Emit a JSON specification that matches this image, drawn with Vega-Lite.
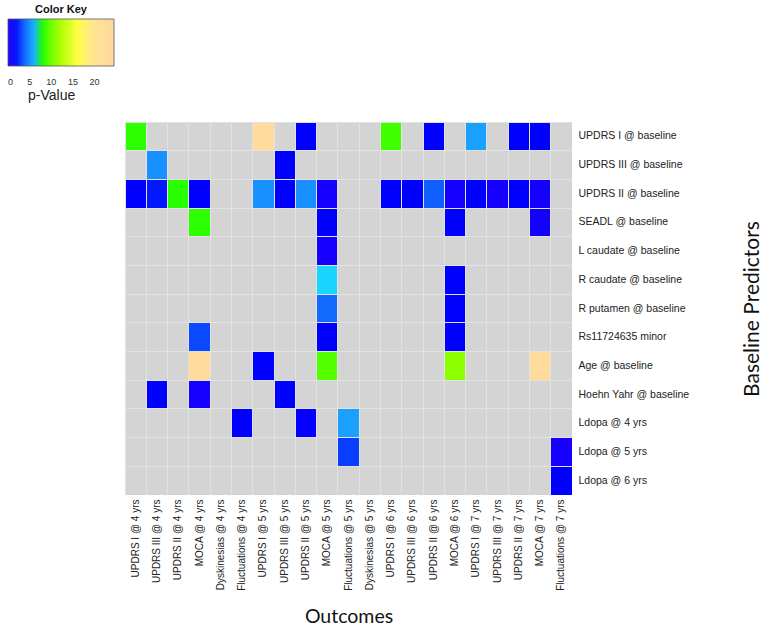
{
  "$schema": "https://vega.github.io/schema/vega-lite/v6.json",
  "autosize": {"type": "none"},
  "padding": {"left": 125, "top": 122, "right": 194, "bottom": 135},
  "width": 447,
  "height": 373,
  "title": {
    "text": "p-Value",
    "anchor": "start",
    "frame": "group",
    "orient": "top",
    "offset": 0,
    "baseline": "bottom",
    "dx": -97,
    "dy": 113,
    "font": "Liberation Sans",
    "fontSize": 14,
    "fontWeight": "normal",
    "color": "#222"
  },
  "config": {
    "view": {"fill": "#d4d4d4", "stroke": null},
    "background": "white"
  },
  "data": {
    "values": [
      {"outcome": "UPDRS I @ 4 yrs", "predictor": "UPDRS I @ baseline", "p": 8.3},
      {"outcome": "UPDRS I @ 5 yrs", "predictor": "UPDRS I @ baseline", "p": 23},
      {"outcome": "UPDRS II @ 5 yrs", "predictor": "UPDRS I @ baseline", "p": 1.5},
      {"outcome": "UPDRS I @ 6 yrs", "predictor": "UPDRS I @ baseline", "p": 8.8},
      {"outcome": "UPDRS II @ 6 yrs", "predictor": "UPDRS I @ baseline", "p": 1.5},
      {"outcome": "UPDRS I @ 7 yrs", "predictor": "UPDRS I @ baseline", "p": 5.5},
      {"outcome": "UPDRS II @ 7 yrs", "predictor": "UPDRS I @ baseline", "p": 1.5},
      {"outcome": "MOCA @ 7 yrs", "predictor": "UPDRS I @ baseline", "p": 1.5},

      {"outcome": "UPDRS III @ 4 yrs", "predictor": "UPDRS III @ baseline", "p": 5},
      {"outcome": "UPDRS III @ 5 yrs", "predictor": "UPDRS III @ baseline", "p": 1.5},

      {"outcome": "UPDRS I @ 4 yrs", "predictor": "UPDRS II @ baseline", "p": 1.5},
      {"outcome": "UPDRS III @ 4 yrs", "predictor": "UPDRS II @ baseline", "p": 2},
      {"outcome": "UPDRS II @ 4 yrs", "predictor": "UPDRS II @ baseline", "p": 8.2},
      {"outcome": "MOCA @ 4 yrs", "predictor": "UPDRS II @ baseline", "p": 1.5},
      {"outcome": "UPDRS I @ 5 yrs", "predictor": "UPDRS II @ baseline", "p": 5},
      {"outcome": "UPDRS III @ 5 yrs", "predictor": "UPDRS II @ baseline", "p": 1.5},
      {"outcome": "UPDRS II @ 5 yrs", "predictor": "UPDRS II @ baseline", "p": 5},
      {"outcome": "MOCA @ 5 yrs", "predictor": "UPDRS II @ baseline", "p": 0.6},
      {"outcome": "UPDRS I @ 6 yrs", "predictor": "UPDRS II @ baseline", "p": 1.5},
      {"outcome": "UPDRS III @ 6 yrs", "predictor": "UPDRS II @ baseline", "p": 1.5},
      {"outcome": "UPDRS II @ 6 yrs", "predictor": "UPDRS II @ baseline", "p": 3.5},
      {"outcome": "MOCA @ 6 yrs", "predictor": "UPDRS II @ baseline", "p": 0.7},
      {"outcome": "UPDRS I @ 7 yrs", "predictor": "UPDRS II @ baseline", "p": 1.5},
      {"outcome": "UPDRS III @ 7 yrs", "predictor": "UPDRS II @ baseline", "p": 0.7},
      {"outcome": "UPDRS II @ 7 yrs", "predictor": "UPDRS II @ baseline", "p": 1.5},
      {"outcome": "MOCA @ 7 yrs", "predictor": "UPDRS II @ baseline", "p": 0.7},

      {"outcome": "MOCA @ 4 yrs", "predictor": "SEADL @ baseline", "p": 8.3},
      {"outcome": "MOCA @ 5 yrs", "predictor": "SEADL @ baseline", "p": 1.5},
      {"outcome": "MOCA @ 6 yrs", "predictor": "SEADL @ baseline", "p": 1.5},
      {"outcome": "MOCA @ 7 yrs", "predictor": "SEADL @ baseline", "p": 0.8},

      {"outcome": "MOCA @ 5 yrs", "predictor": "L caudate @ baseline", "p": 0.6},

      {"outcome": "MOCA @ 5 yrs", "predictor": "R caudate @ baseline", "p": 7.2},
      {"outcome": "MOCA @ 6 yrs", "predictor": "R caudate @ baseline", "p": 1.5},

      {"outcome": "MOCA @ 5 yrs", "predictor": "R putamen @ baseline", "p": 3.8},
      {"outcome": "MOCA @ 6 yrs", "predictor": "R putamen @ baseline", "p": 1.5},

      {"outcome": "MOCA @ 4 yrs", "predictor": "Rs11724635 minor", "p": 3},
      {"outcome": "MOCA @ 5 yrs", "predictor": "Rs11724635 minor", "p": 1.5},
      {"outcome": "MOCA @ 6 yrs", "predictor": "Rs11724635 minor", "p": 1.5},

      {"outcome": "MOCA @ 4 yrs", "predictor": "Age @ baseline", "p": 23},
      {"outcome": "UPDRS I @ 5 yrs", "predictor": "Age @ baseline", "p": 1.5},
      {"outcome": "MOCA @ 5 yrs", "predictor": "Age @ baseline", "p": 9.3},
      {"outcome": "MOCA @ 6 yrs", "predictor": "Age @ baseline", "p": 11},
      {"outcome": "MOCA @ 7 yrs", "predictor": "Age @ baseline", "p": 23},

      {"outcome": "UPDRS III @ 4 yrs", "predictor": "Hoehn Yahr @ baseline", "p": 1.5},
      {"outcome": "MOCA @ 4 yrs", "predictor": "Hoehn Yahr @ baseline", "p": 0.7},
      {"outcome": "UPDRS III @ 5 yrs", "predictor": "Hoehn Yahr @ baseline", "p": 1.5},

      {"outcome": "Fluctuations @ 4 yrs", "predictor": "Ldopa @ 4 yrs", "p": 1.5},
      {"outcome": "UPDRS II @ 5 yrs", "predictor": "Ldopa @ 4 yrs", "p": 1.3},
      {"outcome": "Fluctuations @ 5 yrs", "predictor": "Ldopa @ 4 yrs", "p": 5.5},

      {"outcome": "Fluctuations @ 5 yrs", "predictor": "Ldopa @ 5 yrs", "p": 2.8},
      {"outcome": "Fluctuations @ 7 yrs", "predictor": "Ldopa @ 5 yrs", "p": 0.6},

      {"outcome": "Fluctuations @ 7 yrs", "predictor": "Ldopa @ 6 yrs", "p": 1.5}
    ]
  },
  "mark": {"type": "rect"},
  "encoding": {
    "x": {
      "field": "outcome",
      "type": "nominal",
      "sort": null,
      "scale": {
        "domain": ["UPDRS I @ 4 yrs", "UPDRS III @ 4 yrs", "UPDRS II @ 4 yrs", "MOCA @ 4 yrs", "Dyskinesias @ 4 yrs", "Fluctuations @ 4 yrs", "UPDRS I @ 5 yrs", "UPDRS III @ 5 yrs", "UPDRS II @ 5 yrs", "MOCA @ 5 yrs", "Fluctuations @ 5 yrs", "Dyskinesias @ 5 yrs", "UPDRS I @ 6 yrs", "UPDRS III @ 6 yrs", "UPDRS II @ 6 yrs", "MOCA @ 6 yrs", "UPDRS I @ 7 yrs", "UPDRS III @ 7 yrs", "UPDRS II @ 7 yrs", "MOCA @ 7 yrs", "Fluctuations @ 7 yrs"],
        "paddingInner": 0,
        "paddingOuter": 0
      },
      "axis": {
        "orient": "bottom",
        "title": "Outcomes",
        "titleFont": "Lato",
        "titleFontSize": 19.5,
        "titleFontWeight": "normal",
        "titleColor": "#111",
        "titlePadding": 17,
        "labelAngle": 270,
        "labelFont": "Liberation Sans",
        "labelFontSize": 10,
        "labelColor": "#222",
        "labelPadding": 4,
        "ticks": false,
        "domain": false,
        "grid": true,
        "bandPosition": 0,
        "gridColor": "#e2e2e2",
        "gridWidth": 1
      }
    },
    "y": {
      "field": "predictor",
      "type": "nominal",
      "sort": null,
      "scale": {
        "domain": ["UPDRS I @ baseline", "UPDRS III @ baseline", "UPDRS II @ baseline", "SEADL @ baseline", "L caudate @ baseline", "R caudate @ baseline", "R putamen @ baseline", "Rs11724635 minor", "Age @ baseline", "Hoehn Yahr @ baseline", "Ldopa @ 4 yrs", "Ldopa @ 5 yrs", "Ldopa @ 6 yrs"],
        "paddingInner": 0,
        "paddingOuter": 0
      },
      "axis": {
        "orient": "right",
        "title": "Baseline Predictors",
        "titleFont": "Lato",
        "titleFontSize": 21,
        "titleFontWeight": "normal",
        "titleColor": "#111",
        "titleAngle": 270,
        "titlePadding": 74,
        "labelFont": "Liberation Sans",
        "labelFontSize": 10.5,
        "labelColor": "#222",
        "labelPadding": 6,
        "ticks": false,
        "domain": false,
        "grid": true,
        "bandPosition": 0,
        "gridColor": "#e2e2e2",
        "gridWidth": 1
      }
    },
    "color": {
      "field": "p",
      "type": "quantitative",
      "scale": {
        "domain": [0, 1.5, 3.5, 5.5, 7.5, 8, 10, 12, 16, 19, 24.5],
        "range": ["#2800ff", "#0000ff", "#1060ff", "#1aa0ff", "#1ae0ff", "#20ff00", "#70ff00", "#a8ff00", "#ffff40", "#ffe890", "#ffd8a0"],
        "interpolate": "rgb"
      },
      "legend": {
        "orient": "none",
        "legendX": -117,
        "legendY": -118,
        "direction": "horizontal",
        "title": "Color Key",
        "titleFont": "Liberation Sans",
        "titleFontSize": 11,
        "titleFontWeight": "bold",
        "titleColor": "#111",
        "titleAnchor": "middle",
        "titlePadding": 4,
        "gradientLength": 106,
        "gradientThickness": 47,
        "gradientStrokeColor": "#555",
        "gradientStrokeWidth": 0.8,
        "values": [0, 5, 10, 15, 20],
        "labelFont": "Liberation Sans",
        "labelFontSize": 9,
        "labelColor": "#333",
        "labelOffset": 12
      }
    }
  }
}
